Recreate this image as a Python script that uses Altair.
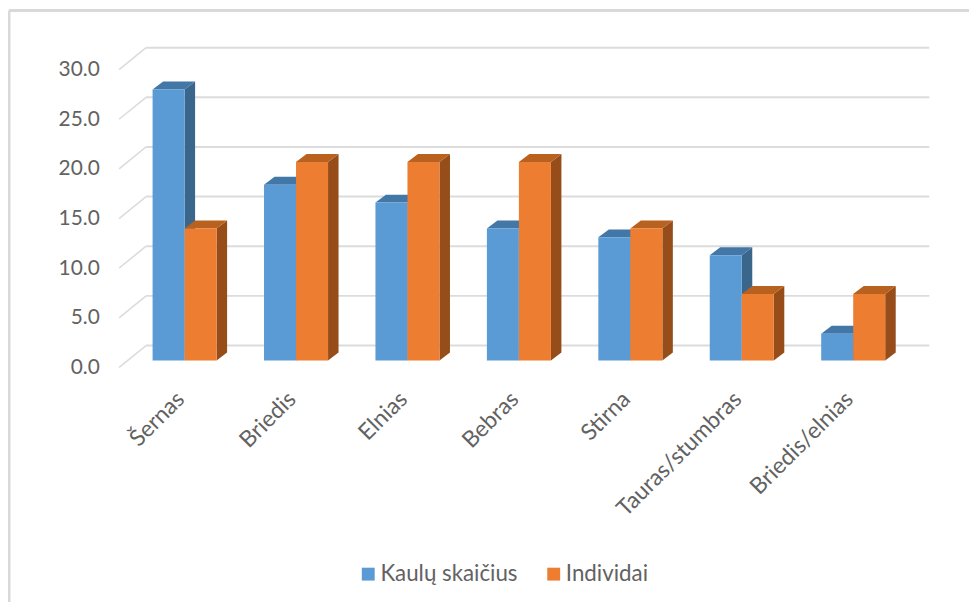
import altair as alt
import pandas as pd

categories = ["Šernas", "Briedis", "Elnias", "Bebras", "Stirna", "Tauras/stumbras", "Briedis/elnias"]
kaulu = [27.3, 17.7, 15.9, 13.3, 12.4, 10.6, 2.7]
individai = [13.3, 20.0, 20.0, 20.0, 13.3, 6.7, 6.7]
ticks = [0, 5, 10, 15, 20, 25, 30]
SERIES = ["Kaulų skaičius", "Individai"]

# geometry of the fake 3-D box, in data units
PX_X, PX_Y = 111.4, 9.95
X_MAX = 810 / PX_X
Y_MIN, Y_MAX = -7 / PX_Y, 314 / PX_Y
BAR_W = 32 / PX_X
BAR_START = 33.5 / PX_X
DX, DY = 10.5 / PX_X, 8 / PX_Y
BACK_X, BACK_Y = 27 / PX_X, 15 / PX_Y
FRONT_Y = Y_MIN
CENTER = 0.55
FONT = "Lato"
TEXT = "#626262"
GRID = "#dcdcdc"

front, side, top = [], [], []
for s, vals in enumerate([kaulu, individai]):
    name = SERIES[s]
    for i, v in enumerate(vals):
        x0 = i + BAR_START + s * BAR_W
        x1 = x0 + BAR_W
        front.append(dict(series=name, x=x0, x2=x1, lo=0, hi=v))
        key = f"{s}-{i}"
        side += [
            dict(series=name, k=key, x=x1, lo=0, hi=v),
            dict(series=name, k=key, x=x1 + DX, lo=DY, hi=v + DY),
        ]
        top += [
            dict(series=name, k=key, x=x0, lo=v, hi=v),
            dict(series=name, k=key, x=x0 + DX, lo=v, hi=v + DY),
            dict(series=name, k=key, x=x1, lo=v, hi=v + DY),
            dict(series=name, k=key, x=x1 + DX, lo=v + DY, hi=v + DY),
        ]
front, side, top = pd.DataFrame(front), pd.DataFrame(side), pd.DataFrame(top)

xs = alt.Scale(domain=[0, X_MAX], nice=False, zero=False, padding=0)
ys = alt.Scale(domain=[Y_MIN, Y_MAX], nice=False, zero=False, padding=0)
cs = alt.Scale(domain=SERIES, range=["#5b9bd5", "#ed7d31"])

grid = pd.DataFrame([dict(y=t + BACK_Y, x=BACK_X, x2=X_MAX) for t in ticks])
wall = pd.DataFrame(
    [dict(k=t, x=0, y=t + FRONT_Y) for t in ticks]
    + [dict(k=t, x=BACK_X, y=t + BACK_Y) for t in ticks]
)

names = "[" + ",".join(f"'{c}'" for c in categories) + "]"
x_axis = alt.Axis(
    title=None, values=[i + CENTER for i in range(len(categories))],
    labelExpr=f"{names}[round(datum.value-{CENTER})]",
    domain=False, ticks=False, grid=False, labelAngle=-45, labelAlign="right",
    labelBaseline="middle", labelPadding=28, labelFont=FONT, labelFontSize=23,
    labelColor=TEXT, labelOverlap=False, labelFlush=False,
)
y_axis = alt.Axis(
    title=None, values=[t + FRONT_Y for t in ticks],
    labelExpr=f"format(datum.value-({FRONT_Y}),'.1f')",
    domain=False, ticks=False, grid=False, labelPadding=20, labelFont=FONT,
    labelFontSize=21, labelColor=TEXT, labelOverlap=False, labelFlush=False,
)

base = (
    alt.Chart(grid).mark_rule(color=GRID, strokeWidth=2).encode(
        x=alt.X("x:Q", scale=xs, axis=x_axis), x2="x2:Q",
        y=alt.Y("y:Q", scale=ys, axis=y_axis),
    )
)
wall_l = alt.Chart(wall).mark_line(color=GRID, strokeWidth=1.6).encode(
    x=alt.X("x:Q", scale=xs), y=alt.Y("y:Q", scale=ys), detail="k:N"
)


def faces(series, side_col, top_col):
    s = alt.Chart(side[side.series == series]).mark_area(color=side_col, opacity=1).encode(
        x=alt.X("x:Q", scale=xs), y=alt.Y("lo:Q", scale=ys), y2="hi:Q", detail="k:N",
    )
    t = alt.Chart(top[top.series == series]).mark_area(color=top_col, opacity=1).encode(
        x=alt.X("x:Q", scale=xs), y=alt.Y("lo:Q", scale=ys), y2="hi:Q", detail="k:N",
    )
    f = alt.Chart(front[front.series == series]).mark_bar(orient="vertical").encode(
        x=alt.X("x:Q", scale=xs), x2="x2:Q",
        y=alt.Y("lo:Q", scale=ys), y2="hi:Q",
        color=alt.Color("series:N", scale=cs, legend=alt.Legend(
            title=None, orient="none", legendX=240, legendY=520, columns=2,
            symbolType="square", symbolSize=169, symbolStrokeWidth=0,
            labelFont=FONT, labelFontSize=22.5, labelColor=TEXT,
            labelOffset=1, columnPadding=25, padding=0,
        )),
    )
    return [s, t, f]


# outer frame of the chart
frame_h = alt.Chart(pd.DataFrame({"a": [1]})).mark_rule(color="#d9d9d9", strokeWidth=3).encode(
    x=alt.value(-111), x2=alt.value(857), y=alt.value(-37)
)
frame_v = alt.Chart(pd.DataFrame({"a": [1]})).mark_rule(color="#d9d9d9", strokeWidth=3).encode(
    x=alt.value(-111), y=alt.value(-37), y2=alt.value(563)
)

chart = alt.layer(
    frame_h, frame_v, base, wall_l,
    *faces(SERIES[0], "#3b668c", "#4277a8"),
    *faces(SERIES[1], "#964d1a", "#b9611f"),
).properties(
    width=817, height=323,
    padding={"left": 112, "top": 37, "right": 40, "bottom": 234},
    autosize=alt.AutoSizeParams(type="none"),
).configure_view(stroke=None)

chart.save("out.html", embed_options={"renderer": "svg", "actions": False})
